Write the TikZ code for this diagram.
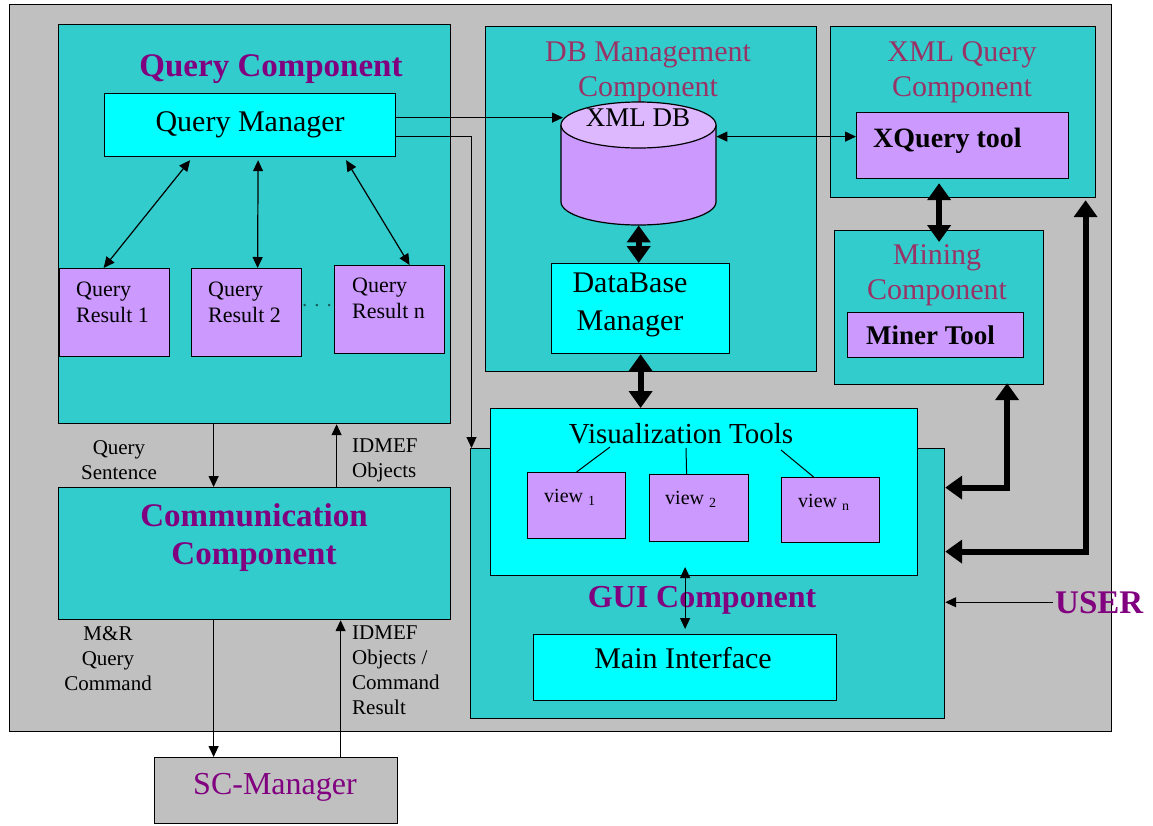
\documentclass[tikz,border=0pt]{standalone}
\usepackage{fontspec}
\setmainfont{Liberation Serif}
\usetikzlibrary{arrows.meta}

\definecolor{panelgray}{HTML}{C0C0C0}
\definecolor{compteal}{HTML}{33CCCC}
\definecolor{toolcyan}{HTML}{00FFFF}
\definecolor{toolviolet}{HTML}{CC99FF}
\definecolor{dbtop}{HTML}{DDB8FF}
\definecolor{titlepurple}{HTML}{800080}
\definecolor{subpurple}{HTML}{993366}

\tikzset{
  box/.style={draw, line width=1.2pt, anchor=north west, inner sep=0pt},
  comp/.style={box, fill=compteal},
  tool/.style={box, fill=toolcyan},
  item/.style={box, fill=toolviolet},
  ttl/.style={text=titlepurple, font=\bfseries\fontsize{33}{38}\selectfont, align=center, inner sep=0pt},
  subttl/.style={text=subpurple, font=\fontsize{30}{35}\selectfont, align=center, inner sep=0pt},
  txt/.style={font=\fontsize{30}{38}\selectfont, align=center, inner sep=0pt},
  res/.style={font=\fontsize{22}{26}\selectfont, align=left, anchor=west, inner sep=0pt},
  lbl/.style={font=\fontsize{21}{25}\selectfont, inner sep=0pt},
  link/.style={line width=1.2pt, -{Triangle[length=11pt,width=10pt]}},
  dlink/.style={line width=1.2pt, {Triangle[length=11pt,width=10pt]}-{Triangle[length=11pt,width=10pt]}},
  fat/.style={line width=6pt, {Triangle[length=17pt,width=23pt]}-{Triangle[length=17pt,width=23pt]}},
}

\begin{document}
\begin{tikzpicture}[x=1pt,y=-1pt]
% page
\fill[white] (0,0) rectangle (1153,825);
\useasboundingbox (0,0) rectangle (1153,825);
% system frame
\node[box, fill=panelgray, minimum width=1102pt, minimum height=727pt] (sys) at (9,4) {};

% query component
\node[comp, minimum width=392pt, minimum height=399pt] (qc) at (58,24) {};
\node[ttl] (qctitle) at (271,69) {Query Component};
\node[tool, minimum width=291pt, minimum height=63pt, font=\fontsize{30}{35}\selectfont] (qm) at (104,93) {Query Manager};
\node[item, minimum width=110pt, minimum height=88pt] (qr1) at (59,268) {};
\node[item, minimum width=110pt, minimum height=88pt] (qr2) at (191,268) {};
\node[item, minimum width=110pt, minimum height=88pt] (qrn) at (334,265) {};
\node[res] (qr1txt) at (76,302) {Query\\Result 1};
\node[res] (qr2txt) at (208,302) {Query\\Result 2};
\node[res] (qrntxt) at (352,298) {Query\\Result n};
\node[lbl, text=black!55!compteal] (dots) at (317,306) {. . .};

% communication component
\node[comp, minimum width=392pt, minimum height=132pt] (cc) at (58,487) {};
\node[ttl] (cctitle) at (254,538) {Communication\\Component};

% db management component
\node[comp, minimum width=331pt, minimum height=345pt] (dbc) at (485,26) {};
\node[subttl] (dbctitle) at (648,72) {DB Management\\Component};
\fill[toolviolet] (561,125) -- (561,202) arc[start angle=180, end angle=360, x radius=77.5pt, y radius=23pt] -- (716,125) -- cycle;
\draw[line width=1.2pt] (561,125) -- (561,202) arc[start angle=180, end angle=360, x radius=77.5pt, y radius=23pt] -- (716,125);
\draw[line width=1.2pt, fill=dbtop] (638.5,125) ellipse [x radius=77.5pt, y radius=23pt];
\node[anchor=north west, minimum width=155pt, minimum height=123pt, inner sep=0pt] (xmldb) at (561,102) {};
\node[txt, font=\fontsize{27}{30}\selectfont] (xmldbtxt) at (638,118) {XML DB};
\node[tool, minimum width=178pt, minimum height=90pt] (dbm) at (551,263) {};
\node[txt] (dbmtxt) at (630,305) {DataBase\\Manager};

% xml query component
\node[comp, minimum width=265pt, minimum height=171pt] (xqc) at (830,26) {};
\node[subttl] (xqctitle) at (962,72) {XML Query\\Component};
\node[item, minimum width=212pt, minimum height=66pt] (xqt) at (856,112) {};
\node[txt, font=\bfseries\fontsize{28}{32}\selectfont, anchor=west] (xqttxt) at (873,141) {XQuery tool};

% mining component
\node[comp, minimum width=209pt, minimum height=154pt] (mc) at (834,230) {};
\node[subttl] (mctitle) at (937,275) {Mining\\Component};
\node[item, minimum width=176pt, minimum height=45pt] (mt) at (847,312) {};
\node[txt, font=\bfseries\fontsize{27}{30}\selectfont, anchor=west] (mttxt) at (866,335) {Miner Tool};

% gui component
\node[comp, minimum width=474pt, minimum height=270pt] (gui) at (470,448) {};
\node[tool, minimum width=427pt, minimum height=167pt] (vis) at (490,408) {};
\node[txt, font=\fontsize{29}{32}\selectfont, anchor=base] (vistxt) at (681,443) {Visualization Tools};
\node[item, minimum width=98pt, minimum height=66pt] (v1) at (527,472) {};
\node[item, minimum width=99pt, minimum height=67pt] (v2) at (649,474) {};
\node[item, minimum width=98pt, minimum height=65pt] (vn) at (781,477) {};
\node[lbl, font=\fontsize{20}{24}\selectfont, anchor=base west] (v1txt) at (544,502) {view \textsubscript{1}};
\node[lbl, font=\fontsize{20}{24}\selectfont, anchor=base west] (v2txt) at (665,504) {view \textsubscript{2}};
\node[lbl, font=\fontsize{20}{24}\selectfont, anchor=base west] (vntxt) at (798,507) {view \textsubscript{n}};
\node[ttl, font=\bfseries\fontsize{32}{36}\selectfont, anchor=base] (guititle) at (702,607) {GUI Component};
\node[tool, minimum width=303pt, minimum height=66pt] (mi) at (533,634) {};
\node[txt, anchor=base] (mitxt) at (683,668) {Main Interface};

% outside the frame
\node[box, fill=panelgray, minimum width=243pt, minimum height=66pt] (scm) at (154,757) {};
\node[txt, text=titlepurple, font=\fontsize{32}{36}\selectfont, anchor=base] (scmtxt) at (275,794) {SC-Manager};
\node[ttl, anchor=base west] (user) at (1055,613) {USER};

% connector labels
\node[lbl, align=center] (qstxt) at (119,460) {Query\\Sentence};
\node[lbl, align=left, anchor=west] (idotxt) at (352,460) {IDMEF\\Objects};
\node[lbl, align=center] (mrtxt) at (108,659) {M\&R\\Query\\Command};
\node[lbl, align=left, anchor=west] (idctxt) at (352,670) {IDMEF\\Objects /\\Command\\Result};

% query manager to results
\draw[dlink] ([xshift=-60pt,yshift=-3pt]qm.south) -- ([xshift=-11pt]qr1.north);
\draw[dlink] ([xshift=8pt,yshift=-3pt]qm.south) -- ([xshift=11pt]qr2.north);
\draw[dlink] ([xshift=96pt,yshift=-3pt]qm.south) -- ([xshift=20pt]qrn.north);

% query manager to db and gui
\coordinate (qmA) at ([yshift=7.5pt]qm.east);
\draw[link] (qmA) -- ([xshift=2pt]xmldb.west |- qmA);
\draw[link] ([yshift=-11.5pt]qm.east) -| ([xshift=1.5pt]gui.north west);

% query component and communication
\draw[link] ([xshift=-41pt]qc.south) -- ([xshift=-41pt]cc.north);
\draw[link] ([xshift=82pt]cc.north) -- ([xshift=82pt]qc.south);
\draw[link] ([xshift=-41pt]cc.south) -- ([xshift=-62.5pt]scm.north);
\draw[link] ([xshift=64.5pt]scm.north) -- ([xshift=86pt]cc.south);

% db, xquery, mining
\coordinate (xqA) at ([yshift=9pt]xqt.west);
\draw[dlink] (xmldb.east |- xqA) -- (xqA);
\draw[fat] (xmldb.south) -- (xmldb.south |- dbm.north);
\draw[fat] (dbm.south) -- (dbm.south |- vis.north);
\draw[fat] ([yshift=-4pt]mc.north |- xqt.south) -- ([yshift=-12pt]mc.north);
\draw[fat] ([xshift=68pt,yshift=2pt]mc.south) |- ([yshift=96pt]gui.east);
\draw[fat] ([xshift=122.5pt,yshift=-2pt]xqc.south) |- ([yshift=32pt]gui.east);

% gui inside
\draw[line width=1pt] ([xshift=-71pt,yshift=-4pt]vistxt.base) -- (v1.north);
\draw[line width=1pt] ([xshift=5pt,yshift=-5pt]vistxt.base) -- ([xshift=-12.5pt]v2.north);
\draw[line width=1pt] ([xshift=100pt,yshift=-7pt]vistxt.base) -- ([xshift=-17pt]vn.north);
\draw[dlink] ([yshift=67pt]mi.north) -- ([yshift=5pt]mi.north);
\draw[link] ([xshift=-2pt]user.west) -- (user.west -| gui.east);
\end{tikzpicture}
\end{document}
